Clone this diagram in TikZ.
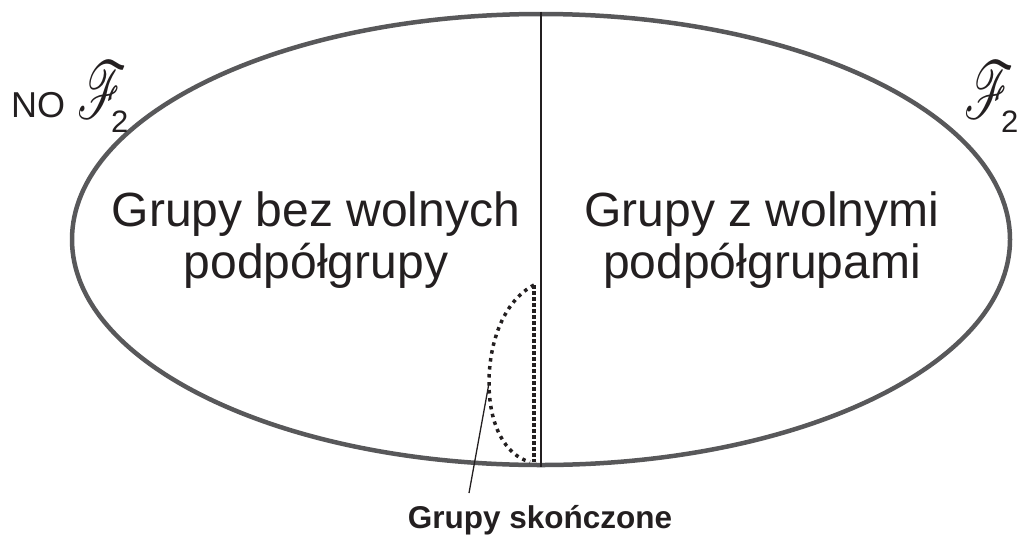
\documentclass[tikz,border=0pt]{standalone}
\usepackage{fontspec}
\usepackage{mathrsfs}
\usepackage{graphicx}
\usetikzlibrary{shapes.geometric}
\setmainfont{Liberation Sans}
\definecolor{rim}{HTML}{58585A}
\definecolor{ink}{HTML}{231F20}
\newcommand{\bigF}{\scalebox{2.3}[3.9]{\fontsize{20}{20}\selectfont$\mathscr{F}$}}
\begin{document}
\begin{tikzpicture}[x=1pt,y=-1pt,
  every node/.style={inner sep=0pt, text=ink},
  bigtext/.style={font=\fontsize{48}{52}\selectfont, align=center},
  smalltext/.style={font=\fontsize{31}{31}\selectfont},
  notext/.style={font=\fontsize{36}{36}\selectfont},
  labeltext/.style={font=\bfseries\fontsize{31.5}{31.5}\selectfont},
  rimline/.style={draw=rim, line width=4.5pt},
  dotline/.style={draw=ink, line width=3.5pt, line cap=butt},
  thin/.style={draw=ink, line width=1.3pt}]
\useasboundingbox (0,0) rectangle (1019,536);

% outer ellipse and the dividing line
\node[ellipse, minimum width=938pt, minimum height=451pt, rimline] (ell) at (541,239.5) {};
\draw[thin, line width=1.6pt] (ell.north) -- (ell.south);

% finite groups region
\coordinate (ftop) at (534,285);
\coordinate (fleft) at (489,383);
\coordinate (fbot) at (530,462);
\coordinate (fbase) at (534,462);
\draw[dotline, dash pattern=on 3.5pt off 2.5pt] (ftop) -- (fbase);
\draw[dotline, dash pattern=on 3.5pt off 4.5pt]
  (ftop) .. controls (505,300) and (489,340) .. (fleft)
         .. controls (489,425) and (505,455) .. (fbot);

% region texts
\node[bigtext] (left) at (316,240) {Grupy bez wolnych\\podpółgrupy};
\node[bigtext] (right) at (762,240) {Grupy z wolnymi\\podpółgrupami};

% pointer and its label
\node[labeltext, anchor=base] (fin) at (540,528) {Grupy skończone};
\coordinate (pend) at (469,493);
\draw[thin] (fleft) -- (pend);

% class symbols
\node[notext, anchor=base west] (no) at (11,117) {NO};
\node (fl) at (102,90) {\bigF};
\node[smalltext, anchor=base west] (twol) at (111,132) {2};
\node (fr) at (989,90) {\bigF};
\node[smalltext, anchor=base west] (twor) at (1001,132) {2};
\end{tikzpicture}
\end{document}
